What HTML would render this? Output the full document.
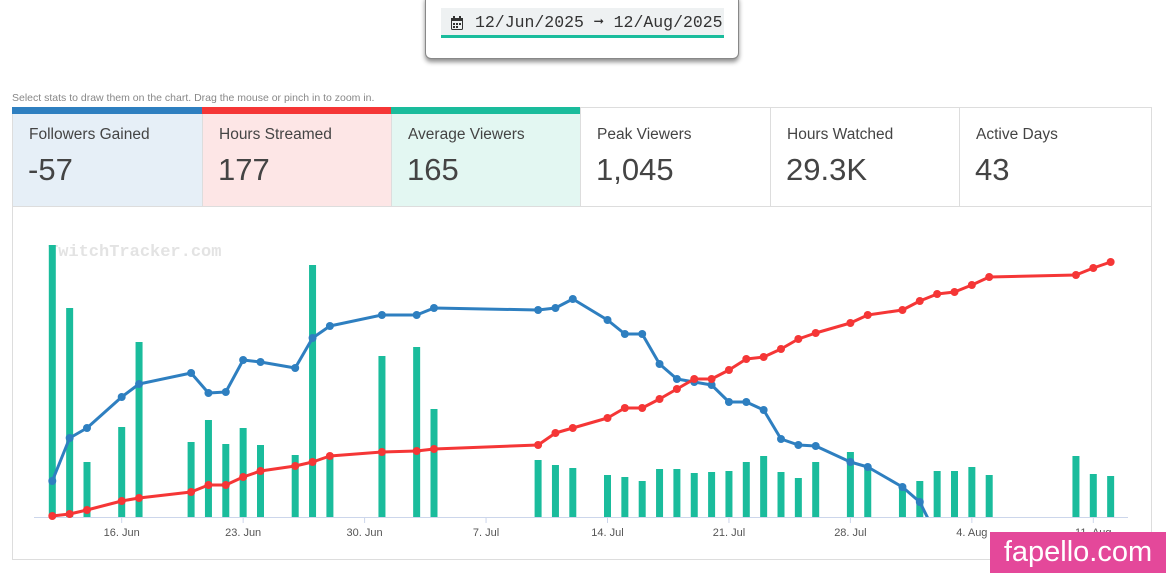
<!DOCTYPE html>
<html><head><meta charset="utf-8">
<style>
body{margin:0;width:1166px;height:573px;background:#fff;font-family:"Liberation Sans",sans-serif;position:relative;overflow:hidden}
.picker{position:absolute;left:425px;top:-6px;width:312px;height:63px;background:#fff;border:1px solid #888;border-radius:6px;box-shadow:0 3px 5px rgba(0,0,0,.45)}
.pin{position:absolute;left:15px;top:13px;width:283px;height:30px;background:#eef1f2;border-bottom:3px solid #1abc9c;font-family:"Liberation Mono",monospace;font-size:16.5px;color:#333;line-height:30px;padding-left:34px;box-sizing:border-box}
.hint{position:absolute;left:12px;top:92px;font-size:10.5px;color:#888}
.card{position:absolute;top:107px;height:100px;border:1px solid #ddd;box-sizing:border-box;border-right:none}
.card .t{position:absolute;left:16px;top:18px;font-size:15.5px;color:#444}
.card .v{position:absolute;left:15px;top:44px;font-size:31px;color:#444}
.card .bar{position:absolute;left:-1px;right:0;top:-1px;height:7px}
.chartbox{position:absolute;left:12px;top:207px;width:1140px;height:353px;border:1px solid #ddd;border-top:none;box-sizing:border-box}
.wm{position:absolute;left:990px;top:532px;width:176px;height:41px;background:#e4489a;color:#fff;font-size:29px;line-height:41px;text-align:center}
</style></head><body>
<div class="picker"><div class="pin">
<svg style="position:absolute;left:10px;top:8px" width="12" height="14"><rect x="0.5" y="2.5" width="11" height="11" rx="1" fill="none" stroke="#333"/><rect x="0" y="2" width="12" height="3" fill="#333"/><rect x="2" y="0" width="2" height="3" fill="#333"/><rect x="8" y="0" width="2" height="3" fill="#333"/><g fill="#333"><rect x="2" y="7" width="2" height="2"/><rect x="5" y="7" width="2" height="2"/><rect x="8" y="7" width="2" height="2"/><rect x="2" y="10" width="2" height="2"/><rect x="5" y="10" width="2" height="2"/></g></svg>
12/Jun/2025 ➞ 12/Aug/2025</div></div>
<div class="hint">Select stats to draw them on the chart. Drag the mouse or pinch in to zoom in.</div>
<div class="card" style="left:12px;width:191px;background:#e6eff7"><div class="bar" style="background:#2e7fc0"></div><div class="t">Followers Gained</div><div class="v">-57</div></div>
<div class="card" style="left:202px;width:190px;background:#fde6e6"><div class="bar" style="background:#f53636"></div><div class="t">Hours Streamed</div><div class="v">177</div></div>
<div class="card" style="left:391px;width:190px;background:#e3f7f2"><div class="bar" style="background:#1abc9c"></div><div class="t">Average Viewers</div><div class="v">165</div></div>
<div class="card" style="left:580px;width:191px"><div class="t">Peak Viewers</div><div class="v">1,045</div></div>
<div class="card" style="left:770px;width:190px"><div class="t">Hours Watched</div><div class="v">29.3K</div></div>
<div class="card" style="left:959px;width:193px;border-right:1px solid #ddd"><div class="t">Active Days</div><div class="v">43</div></div>
<div class="chartbox"></div>
<svg id="chart" width="1166" height="573" style="position:absolute;left:0;top:0">
<text x="48" y="256" font-family="Liberation Mono,monospace" font-weight="bold" font-size="17" fill="#e3e3e3">TwitchTracker.com</text>
</svg>
<div class="wm">fapello.com</div>
<script>
const barDays=[0,1,2,4,5,8,9,10,11,12,14,15,16,19,21,22,28,29,30,32,33,34,35,36,37,38,39,40,41,42,43,44,46,47,49,50,51,52,53,54,59,60,61];
const avgViewers=[272,209,55,90,175,75,97,73,89,72,62,252,59,161,170,108,57,52,49,42,40,36,48,48,44,45,46,55,61,45,39,55,65,50,31,36,46,46,50,42,61,43,41];
const lineDays=[0,1,2,4,5,8,9,10,11,12,14,15,16,19,21,22,28,29,30,32,33,34,35,36,37,38,39,40,41,42,43,44,46,47,49,50,51];
const followers=[36,79,89,120,133,144,124,125,157,155,149,179,191,202,202,209,207,209,218,197,183,183,153,138,135,132,115,115,107,78,72,71,55,50,30,15,-20];
const hoursDays=[0,1,2,4,5,8,9,10,11,12,14,15,16,19,21,22,28,29,30,32,33,34,35,36,37,38,39,40,41,42,43,44,46,47,49,50,51,52,53,54,59,60,61];
const hours=[1,3,7,16,19,25,32,32,40,46,51,55,61,65,66,68,72,84,89,99,109,109,118,128,138,138,147,158,160,168,178,184,194,202,207,216,223,225,232,240,242,249,255];
const tickDays=[4,11,18,25,32,39,46,53,60];
const tickLabels=["16. Jun","23. Jun","30. Jun","7. Jul","14. Jul","21. Jul","28. Jul","4. Aug","11. Aug"];
const NS="http://www.w3.org/2000/svg";
const svg=document.getElementById('chart');
const X=d=>52.3+d*17.35;
const Y=v=>517-v;
function mk(t,a){const e=document.createElementNS(NS,t);for(const k in a)e.setAttribute(k,a[k]);svg.appendChild(e);return e;}
const ax=mk('line',{x1:34,x2:1128,y1:517.5,y2:517.5,stroke:'#ccd6eb'});


tickDays.forEach((d,i)=>{
 const tk=mk('line',{x1:X(d),x2:X(d),y1:517,y2:523,stroke:'#ccd6eb'});
 
 
 const t=mk('text',{x:X(d),y:536,'text-anchor':'middle','font-size':'11',fill:'#555','font-family':'Liberation Sans,sans-serif'});
 t.textContent=tickLabels[i];
 
 
});
barDays.forEach((d,i)=>{
 const r=mk('rect',{x:X(d)-3.5,y:Y(avgViewers[i]),width:7,height:avgViewers[i],fill:'#1abc9c'});
 
 
});
const clip=mk('clipPath',{id:'c'});
const cr=document.createElementNS(NS,'rect');cr.setAttribute('x',0);cr.setAttribute('y',0);cr.setAttribute('width',1166);cr.setAttribute('height',517);clip.appendChild(cr);
function series(days,vals,col,name){
 const p=mk('polyline',{points:days.map((d,i)=>X(d)+','+Y(vals[i])).join(' '),fill:'none',stroke:col,'stroke-width':3,'stroke-linejoin':'round','clip-path':'url(#c)'});
 
 
 days.forEach((d,i)=>{if(Y(vals[i])>517)return;
  const c=mk('circle',{cx:X(d),cy:Y(vals[i]),r:4,fill:col});
  
  
 });
}
series(lineDays,followers,'#2e7fc0','followers');
series(hoursDays,hours,'#f53636','hours-streamed');
</script>
</body></html>
